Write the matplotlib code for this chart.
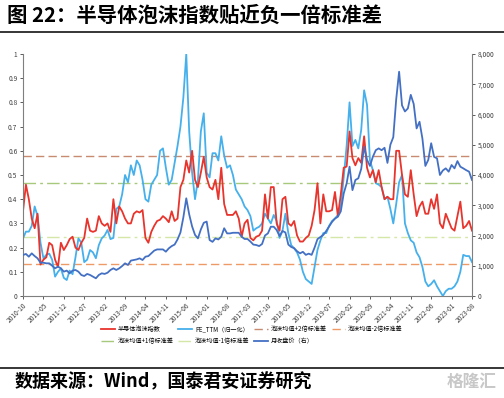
import numpy as np
import matplotlib
matplotlib.use("Agg")
import matplotlib.pyplot as plt
from matplotlib.lines import Line2D

plt.rcParams['font.family'] = ['Noto Sans CJK SC', 'DejaVu Sans']
plt.rcParams['axes.unicode_minus'] = False

# =========================================================
# DATA (monthly, 2010-10 .. 2023-08)
# =========================================================
tick_labels = ["2010-10", "2011-05", "2011-12", "2012-07", "2013-02", "2013-09",
               "2014-04", "2014-11", "2015-06", "2016-01", "2016-08", "2017-03",
               "2017-10", "2018-05", "2018-12", "2019-07", "2020-02", "2020-09",
               "2021-04", "2021-11", "2022-06", "2023-01", "2023-08"]

bubble_index = [
    0.35, 0.46, 0.40, 0.32, 0.28, 0.34, 0.13, 0.15, 0.16, 0.22,
    0.21, 0.15, 0.12, 0.22, 0.19, 0.21, 0.235, 0.245, 0.20, 0.19,
    0.22, 0.24, 0.32, 0.27, 0.265, 0.27, 0.33, 0.30, 0.29, 0.30,
    0.265, 0.40, 0.30, 0.37, 0.35, 0.32, 0.30, 0.30, 0.34, 0.35,
    0.345, 0.355, 0.24, 0.22, 0.265, 0.29, 0.31, 0.315, 0.33, 0.32,
    0.305, 0.35, 0.31, 0.32, 0.45, 0.48, 0.56, 0.51, 0.60, 0.48,
    0.45, 0.51, 0.575, 0.49, 0.45, 0.44, 0.48, 0.40, 0.53, 0.38,
    0.335, 0.335, 0.335, 0.35, 0.32, 0.245, 0.30, 0.315, 0.24, 0.23,
    0.245, 0.25, 0.27, 0.42, 0.32, 0.45, 0.45, 0.30, 0.27, 0.40,
    0.41, 0.30, 0.29, 0.31, 0.25, 0.225, 0.225, 0.24, 0.25, 0.29,
    0.355, 0.466, 0.30, 0.42, 0.35, 0.35, 0.355, 0.43, 0.33, 0.42,
    0.53, 0.535, 0.68, 0.57, 0.54, 0.57, 0.55, 0.66, 0.53, 0.49,
    0.52, 0.47, 0.52, 0.45, 0.40, 0.41, 0.40, 0.40, 0.60, 0.60,
    0.50, 0.42, 0.41, 0.52, 0.42, 0.33, 0.37, 0.39, 0.34, 0.34,
    0.40, 0.36, 0.42, 0.30, 0.28, 0.34, 0.31, 0.28, 0.27, 0.33,
    0.39, 0.28, 0.29, 0.31, 0.27,
]

pe_ttm_norm = [
    0.238, 0.266, 0.266, 0.29, 0.37, 0.33, 0.22, 0.156, 0.17, 0.175,
    0.15, 0.08, 0.10, 0.114, 0.075, 0.066, 0.105, 0.09, 0.16, 0.238,
    0.22, 0.14, 0.15, 0.19, 0.18, 0.156, 0.21, 0.238, 0.25, 0.273,
    0.235, 0.24, 0.36, 0.37, 0.42, 0.50, 0.47, 0.54, 0.50, 0.56,
    0.54, 0.48, 0.40, 0.39, 0.46, 0.48, 0.50, 0.60, 0.61, 0.53,
    0.46, 0.48, 0.55, 0.62, 0.70, 0.82, 1.00, 0.68, 0.51, 0.40,
    0.48, 0.68, 0.755, 0.51, 0.49, 0.59, 0.59, 0.56, 0.66, 0.58,
    0.53, 0.54, 0.50, 0.44, 0.42, 0.40, 0.37, 0.355, 0.33, 0.27,
    0.28, 0.286, 0.30, 0.34, 0.32, 0.30, 0.335, 0.31, 0.24, 0.27,
    0.34, 0.26, 0.21, 0.197, 0.18, 0.15, 0.10, 0.07, 0.06, 0.05,
    0.12, 0.19, 0.23, 0.26, 0.26, 0.29, 0.31, 0.32, 0.335, 0.37,
    0.49, 0.62, 0.80, 0.62, 0.645, 0.61, 0.686, 0.85, 0.79, 0.56,
    0.52, 0.466, 0.46, 0.45, 0.40, 0.41, 0.36, 0.30, 0.38, 0.47,
    0.50, 0.30, 0.26, 0.23, 0.22, 0.18, 0.16, 0.12, 0.06, 0.04,
    0.05, 0.065, 0.04, 0.02, 0.0, 0.02, 0.03, 0.03, 0.04, 0.06,
    0.10, 0.17, 0.165, 0.165, 0.14,
]

monthly_close = [
    1355, 1390, 1300, 1410, 1320, 1245, 1100, 1100, 1080, 1080,
    1000, 915, 970, 915, 805, 840, 750, 840, 860, 805,
    695, 660, 730, 695, 640, 585, 695, 750, 730, 770,
    860, 915, 860, 915, 990, 1080, 1025, 1170, 1190, 1210,
    1245, 1190, 1300, 1320, 1410, 1500, 1540, 1540, 1540, 1465,
    1575, 1650, 1700, 1870, 2100, 2600, 3230, 2700, 2300, 2020,
    1905, 2200, 2420, 2460, 1850, 1790, 1905, 1870, 1960, 2240,
    2070, 2070, 2090, 2090, 2090, 1960, 1885, 1885, 1800, 1700,
    1685, 1650, 1720, 2000, 2070, 2290, 2290, 2180, 1980, 2150,
    2100, 1700, 1620, 1580, 1480, 1410, 1460, 1360, 1400, 1360,
    1600, 1880, 1950, 2020, 2150, 2300, 2450, 2560, 2620, 2800,
    3390, 3720, 4275, 3500, 3835, 3890, 4200, 4935, 4500, 4300,
    4605, 4820, 4880, 4820, 4900, 4400, 5000, 5250, 6500, 7415,
    6300, 6100, 6200, 6650, 6350, 5540, 5760, 5200, 4300, 4500,
    5050, 4600, 4550, 4000, 4150, 4220, 4110, 4330, 4220, 4460,
    4275, 4220, 4160, 4110, 3835,
]

# bubble mean +/- 1 and 2 std
band_plus2 = 0.577
band_minus2 = 0.132
band_plus1 = 0.466
band_minus1 = 0.243

# =========================================================
# PLOT
# =========================================================
months = np.arange(len(bubble_index))
tick_pos = np.arange(0, len(bubble_index), 7)

C_RED = "#E8342C"
C_LBLUE = "#45B0EC"
C_DBLUE = "#4470C4"
C_P2 = "#C98A72"
C_M2 = "#EE9A66"
C_P1 = "#A6C97C"
C_M1 = "#D5E7A6"

fig = plt.figure(figsize=(5.04, 3.98), dpi=100)
ax = fig.add_axes([23 / 504, 1 - 296 / 398, 449 / 504, 242 / 398])
ax2 = ax.twinx()

ls2 = (0, (6, 3))
ls1 = (0, (9, 3, 2, 3))
ax.axhline(band_plus2, color=C_P2, lw=1.0, ls=ls2)
ax.axhline(band_minus2, color=C_M2, lw=1.0, ls=ls2)
ax.axhline(band_plus1, color=C_P1, lw=1.0, ls=ls1)
ax.axhline(band_minus1, color=C_M1, lw=1.0, ls=ls1)

ax.plot(months, pe_ttm_norm, color=C_LBLUE, lw=1.3)
ax.plot(months, bubble_index, color=C_RED, lw=1.3)
ax2.plot(months, monthly_close, color=C_DBLUE, lw=1.3)

ax.set_xlim(0, len(bubble_index) - 1)
ax.set_ylim(0, 1)
ax2.set_ylim(0, 8000)

ax.set_yticks(np.arange(0, 1.01, 0.1))
ax.set_yticklabels(["0", "0.1", "0.2", "0.3", "0.4", "0.5", "0.6", "0.7", "0.8", "0.9", "1"])
ax2.set_yticks(np.arange(0, 8001, 1000))
ax2.set_yticklabels([f"{v:,}" for v in range(0, 8001, 1000)])

ax.set_xticks(tick_pos)
ax.set_xticklabels(tick_labels, rotation=45, ha="right", rotation_mode="anchor")

for a in (ax, ax2):
    a.spines["top"].set_visible(False)
    for s in ("left", "right", "bottom"):
        a.spines[s].set_color("#7F7F7F")
        a.spines[s].set_linewidth(0.8)
    a.tick_params(labelsize=4.8, colors="#404040", length=2, width=0.6, pad=2)
ax.spines["right"].set_visible(False)
ax2.spines["left"].set_visible(False)
ax2.spines["bottom"].set_visible(False)

# legend, laid out row by row
h_red = Line2D([], [], color=C_RED, lw=1.3)
h_lb = Line2D([], [], color=C_LBLUE, lw=1.3)
h_p2 = Line2D([], [], color=C_P2, lw=1.0, ls=ls2)
h_m2 = Line2D([], [], color=C_M2, lw=1.0, ls=ls2)
h_p1 = Line2D([], [], color=C_P1, lw=1.0, ls=ls1)
h_m1 = Line2D([], [], color=C_M1, lw=1.0, ls=ls1)
h_db = Line2D([], [], color=C_DBLUE, lw=1.3)
handles = [h_red, h_p1, h_lb, h_m1, h_p2, h_db, h_m2]
labels = ["半导体泡沫指数", "泡沫均值+1倍标准差", "PE_TTM（归一化）", "泡沫均值-1倍标准差",
          "泡沫均值+2倍标准差", "月收盘价（右）", "泡沫均值-2倍标准差"]
fig.legend(handles, labels, ncol=4, loc="center", bbox_to_anchor=(252 / 504, 0.158),
           frameon=False, fontsize=4.4, handlelength=2.2, handletextpad=0.5,
           columnspacing=0.8, labelspacing=0.6)

# title and footer
fig.text(7 / 504, 1 - 15 / 398, "图 22：半导体泡沫指数贴近负一倍标准差",
         fontsize=14.7, fontweight="bold", ha="left", va="center")
fig.add_artist(Line2D([0, 1], [1 - 31.5 / 398] * 2, color="black", lw=1.1))
fig.add_artist(Line2D([0, 1], [1 - 368 / 398] * 2, color="black", lw=1.1))
fig.text(15 / 504, 1 - 382 / 398, "数据来源：Wind，国泰君安证券研究",
         fontsize=13, fontweight="bold", ha="left", va="center")
fig.text(497 / 504, 1 - 382 / 398, "格隆汇", fontsize=12, color="#C8C8C8",
         fontweight="bold", ha="right", va="center")

fig.savefig("out.png", dpi=100)
